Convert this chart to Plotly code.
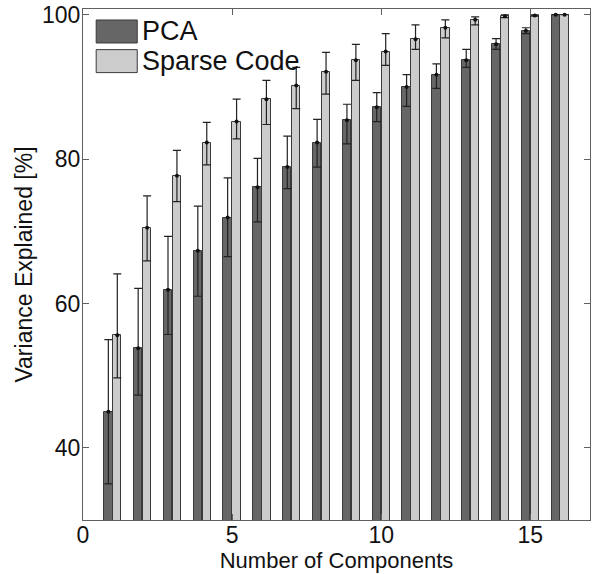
import numpy as np
import plotly.graph_objects as go

components = list(range(1, 17))
pca_mean = [45.0, 53.8, 61.9, 67.3, 71.9, 76.1, 78.9, 82.3, 85.4, 87.2, 90.0, 91.7, 93.7, 95.9, 97.8, 100.0]
pca_upper = [55.0, 62.1, 69.3, 73.5, 77.4, 80.1, 83.2, 85.5, 87.6, 89.2, 91.7, 93.2, 95.2, 96.7, 98.2, 100.0]
pca_lower = [35.0, 47.3, 55.7, 61.0, 66.5, 71.3, 75.9, 78.9, 82.1, 85.2, 87.3, 89.8, 92.7, 95.2, 97.4, 100.0]
sc_mean = [55.6, 70.5, 77.7, 82.3, 85.2, 88.3, 90.2, 92.1, 93.7, 94.9, 96.6, 98.2, 99.3, 99.8, 99.9, 100.0]
sc_upper = [64.1, 74.9, 81.2, 85.1, 88.3, 90.9, 92.7, 94.8, 95.9, 97.4, 98.6, 99.3, 99.7, 100.0, 100.0, 100.0]
sc_lower = [49.7, 65.9, 74.1, 79.2, 82.8, 84.8, 87.0, 89.0, 90.9, 93.0, 95.2, 96.8, 98.6, 99.6, 99.8, 100.0]
series_names = ["PCA", "Sparse Code"]
x_ticks = [0, 5, 10, 15]
y_ticks = [40, 60, 80, 100]

comp = np.array(components, dtype=float)
offset = 0.15
bw = 0.28
pca_col = "#666666"
sc_col = "#cccccc"
edge = "#3a3a3a"
font = "Liberation Sans, Arial, sans-serif"

fig = go.Figure()
for xs, mean, col, name in [
    (comp - offset, pca_mean, pca_col, series_names[0]),
    (comp + offset, sc_mean, sc_col, series_names[1]),
]:
    fig.add_trace(go.Bar(x=xs, y=mean, width=bw, name=name,
                         marker=dict(color=col, line=dict(color=edge, width=1)),
                         showlegend=False))
for xs, mean, up, lo in [
    (comp - offset, pca_mean, pca_upper, pca_lower),
    (comp + offset, sc_mean, sc_upper, sc_lower),
]:
    m = np.array(mean); u = np.array(up); l = np.array(lo)
    fig.add_trace(go.Scatter(x=xs, y=m, mode="markers",
                             marker=dict(color="#111111", size=4),
                             error_y=dict(type="data", symmetric=False,
                                          array=u - m, arrayminus=m - l,
                                          color="#222222", thickness=1.2, width=4),
                             showlegend=False, cliponaxis=False))

# legend drawn as shapes + text (large MATLAB-style swatches)
legend_items = [(series_names[0], pca_col, 0.956), (series_names[1], sc_col, 0.898)]
for name, col, yc in legend_items:
    fig.add_shape(type="rect", xref="paper", yref="paper",
                  x0=0.026, x1=0.107, y0=yc - 0.0225, y1=yc + 0.0225,
                  fillcolor=col, line=dict(color=edge, width=1))
    fig.add_annotation(text=name, xref="paper", yref="paper", x=0.112, y=yc,
                       xanchor="left", yanchor="middle", showarrow=False,
                       font=dict(family=font, size=27, color="#111111"))

axis_common = dict(showline=True, linecolor="#606060", linewidth=1, mirror="ticks",
                   ticks="inside", ticklen=6, tickcolor="#606060", showgrid=False,
                   zeroline=False,
                   tickfont=dict(family=font, size=23, color="#111111"))
fig.update_layout(
    width=593, height=574,
    margin=dict(l=83, r=3, t=9, b=54),
    paper_bgcolor="white", plot_bgcolor="white",
    barmode="overlay", bargap=0,
    xaxis=dict(range=[0, 17], tickvals=x_ticks, ticklabelstandoff=-6,
               title=dict(text="Number of Components", standoff=1,
                          font=dict(family=font, size=22, color="#111111")),
               **axis_common),
    yaxis=dict(range=[30, 100.8], tickvals=y_ticks, ticklabelstandoff=-3,
               title=dict(text="Variance Explained [%]", standoff=2,
                          font=dict(family=font, size=23, color="#111111")),
               **axis_common),
)
fig.write_html("out.html", config={"displayModeBar": False},
               post_script="document.body.style.margin='0';")
